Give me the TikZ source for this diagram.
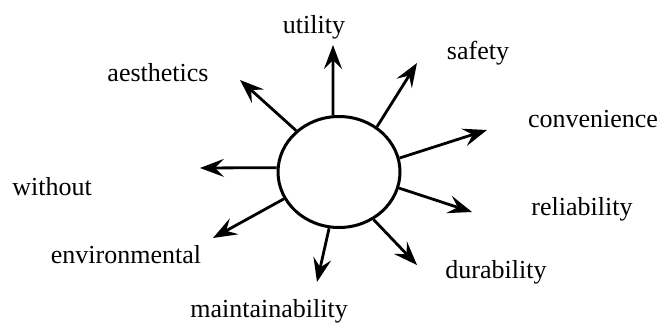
\documentclass[tikz,border=0pt]{standalone}
\usepackage{fontspec}
\setmainfont{Liberation Serif}
\usetikzlibrary{arrows.meta,shapes.geometric}
\tikzset{
  >={Stealth[length=12pt,width=9pt,inset=4.5pt]},
  % kern
  hub/.style={ellipse,draw,line width=1.5pt,minimum width=61pt,
              minimum height=55.5pt,inner sep=0pt},
  ray/.style={->,line width=1.4pt},
  lbl/.style={font=\rmfamily\fontsize{13}{15}\selectfont,inner sep=0pt,anchor=base},
}
\begin{document}
\begin{tikzpicture}[x=0.5pt,y=-0.5pt]
\useasboundingbox (0,0) rectangle (663,322);
  \node[hub] (core) at (339,172) {};
  % spetsar
  \coordinate (tUtil) at (333,45);
  \coordinate (tSafe) at (417,63);
  \coordinate (tConv) at (487,130);
  \coordinate (tRel)  at (472,212);
  \coordinate (tDur)  at (417,265);
  \coordinate (tMaint) at (317,282);
  \coordinate (tEnv)  at (213,238);
  \coordinate (tWout) at (200,168);
  \coordinate (tAest) at (240,80);
  \draw[ray] (core.96) -- (tUtil);
  \draw[ray] (core.50) -- (tSafe);
  \draw[ray] (core.13) -- (tConv);
  \draw[ray] (core.-15) -- (tRel);
  \draw[ray] (core.-54) -- (tDur);
  \draw[ray] (core.-100) -- (tMaint);
  \draw[ray] (core.-154) -- (tEnv);
  \draw[ray] (core.176) -- (tWout);
  \draw[ray] (core.136) -- (tAest);
  % etiketter
  \node[lbl] (util) at (314,33) {utility};
  \node[lbl] (safe) at (478,59) {safety};
  \node[lbl] (aest) at (158,81) {aesthetics};
  \node[lbl] (conv) at (593,127) {convenience};
  \node[lbl] (wout) at (52,195) {without};
  \node[lbl] (rel)  at (582,215) {reliability};
  \node[lbl] (env)  at (126,263) {environmental};
  \node[lbl] (dur)  at (496,278) {durability};
  \node[lbl] (maint) at (269,317) {maintainability};
\end{tikzpicture}
\end{document}
